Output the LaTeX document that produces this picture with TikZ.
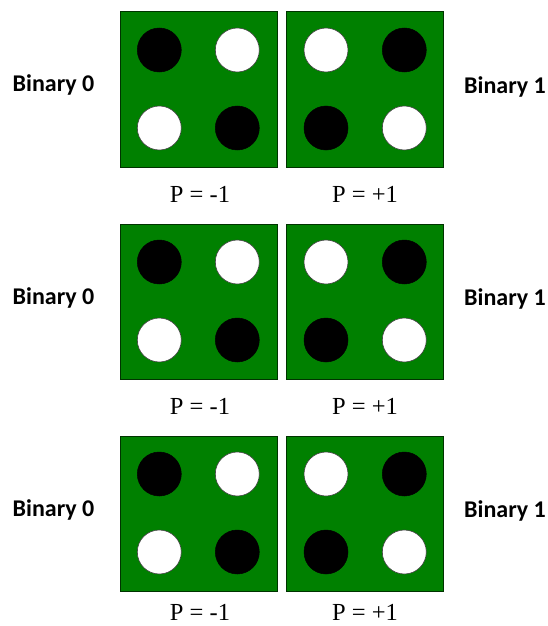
\documentclass[tikz,border=0pt]{standalone}
\usepackage{fontspec}
\setmainfont{Liberation Serif}
\newfontfamily\labfont{Carlito}
\definecolor{boardgreen}{HTML}{008000}
\begin{document}
\begin{tikzpicture}[x=1pt,y=-1pt,
  panel/.style={draw=black!80!green, line width=0.6pt, fill=boardgreen, minimum width=157pt, minimum height=155pt, inner sep=0pt},
  dotblack/.style={circle, fill=black, draw=black, line width=0.5pt, minimum size=44pt, inner sep=0pt},
  dotwhite/.style={circle, fill=white, draw=black!75, line width=0.6pt, minimum size=44pt, inner sep=0pt},
  binlab/.style={font=\labfont\bfseries\fontsize{24}{27}\selectfont, anchor=base},
  plab/.style={font=\fontsize{24.5}{28}\selectfont, anchor=base}]
\useasboundingbox (0,0) rectangle (547,626);
\foreach \r/\dy/\py in {1/0/202.5,2/212/414,3/424/620}{
  \node[panel] (L\r) at (198.3,89.3+\dy) {};
  \node[panel] (R\r) at (365,89.3+\dy) {};
  \node[dotblack] (L\r a) at (159.3,50+\dy) {};
  \node[dotwhite] (L\r b) at (237.3,50+\dy) {};
  \node[dotwhite] (L\r c) at (159.3,128+\dy) {};
  \node[dotblack] (L\r d) at (237.3,128+\dy) {};
  \node[dotwhite] (R\r a) at (326,50+\dy) {};
  \node[dotblack] (R\r b) at (404.3,50+\dy) {};
  \node[dotblack] (R\r c) at (326,128+\dy) {};
  \node[dotwhite] (R\r d) at (404.3,128+\dy) {};
  \node[binlab] (B0\r) at (53.5,92+\dy) {Binary 0};
  \node[binlab] (B1\r) at (505,93+\dy) {Binary 1};
  \node[plab] (PL\r) at (200,\py) {P = -1};
  \node[plab] (PR\r) at (365,\py) {P = +1};
}
\end{tikzpicture}
\end{document}
